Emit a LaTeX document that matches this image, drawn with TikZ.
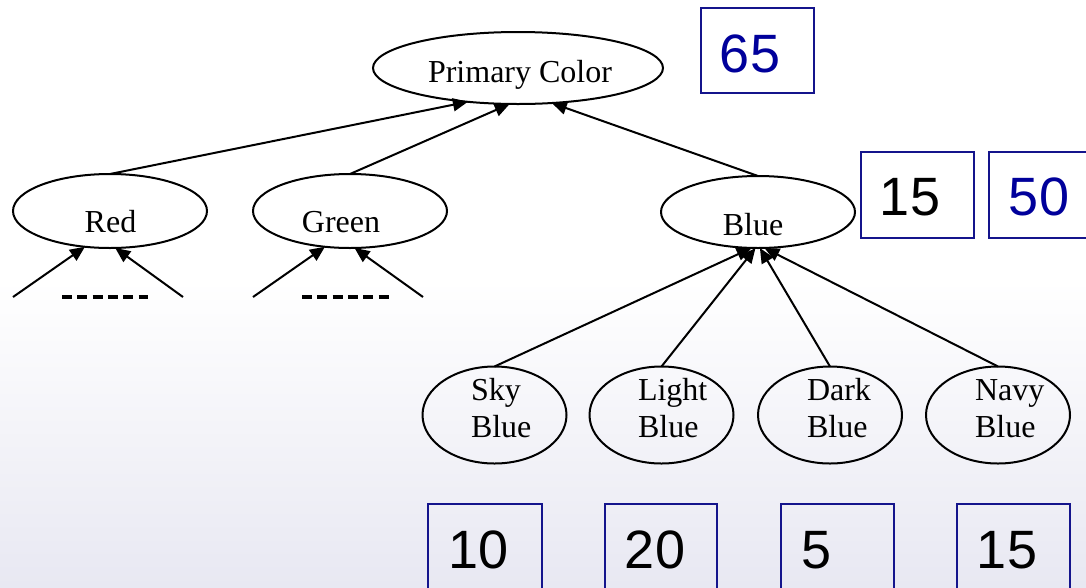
\documentclass[tikz,border=0pt]{standalone}
\usepackage{fontspec}
\setmainfont{Liberation Serif}
\newfontfamily\numfont{Liberation Sans}
\usetikzlibrary{arrows.meta,shapes.geometric}
\definecolor{boxblue}{RGB}{20,20,140}
\definecolor{numblue}{RGB}{0,0,155}
\definecolor{bgbottom}{RGB}{232,232,242}
\begin{document}
\begin{tikzpicture}[x=1pt,y=-1pt,
  oval/.style={ellipse,draw=black,line width=2pt,inner sep=0pt,outer sep=0pt},
  lbl/.style={inner sep=0pt,outer sep=0pt,font=\fontsize{32}{37}\selectfont},
  valbox/.style={draw=boxblue,line width=2pt,inner sep=0pt,outer sep=0pt,minimum width=113pt},
  numtxt/.style={inner sep=0pt,outer sep=0pt,font=\numfont\fontsize{54}{60}\selectfont},
  arr/.style={line width=2pt,-{Triangle[length=15pt,width=13pt]}},
  dashline/.style={line width=3.5pt,dash pattern=on 10pt off 5.3pt}]
\useasboundingbox (0,0) rectangle (1086,587);
\clip (0,0) rectangle (1086,587);
\fill[white] (0,0) rectangle (1086,281);
\shade[top color=white,bottom color=bgbottom] (0,280) rectangle (1086,587);

% ellipses
\node[oval,minimum width=290pt,minimum height=72pt] (prim) at (518,68) {};
\node[oval,minimum width=194pt,minimum height=74pt] (red) at (110,211) {};
\node[oval,minimum width=194pt,minimum height=74pt] (green) at (350,211) {};
\node[oval,minimum width=194pt,minimum height=72pt] (blue) at (758,212) {};
\node[oval,minimum width=144pt,minimum height=97pt] (sky) at (494.5,415) {};
\node[oval,minimum width=144pt,minimum height=97pt] (light) at (661.5,415) {};
\node[oval,minimum width=144pt,minimum height=97pt] (dark) at (830,415) {};
\node[oval,minimum width=144pt,minimum height=97pt] (navy) at (998,415) {};

% labels
\node[lbl,anchor=base] (primT) at (520,82) {Primary Color};
\node[lbl,anchor=base] (redT) at (110.5,232) {Red};
\node[lbl,anchor=base] (greenT) at (341,232) {Green};
\node[lbl,anchor=base] (blueT) at (753,235) {Blue};
\node[lbl,anchor=base west] (skyA) at (471,400) {Sky};
\node[lbl,anchor=base west] (skyB) at (471,437) {Blue};
\node[lbl,anchor=base west] (lightA) at (638,400) {Light};
\node[lbl,anchor=base west] (lightB) at (638,437) {Blue};
\node[lbl,anchor=base west] (darkA) at (807,400) {Dark};
\node[lbl,anchor=base west] (darkB) at (807,437) {Blue};
\node[lbl,anchor=base west] (navyA) at (975,400) {Navy};
\node[lbl,anchor=base west] (navyB) at (975,437) {Blue};

% edges to Primary Color
\draw[arr] (red.north) -- (prim.214);
\draw[arr] (green.north) -- (prim.257);
\draw[arr] (blue.north) -- (prim.314);

% edges to Blue
\draw[arr] (sky.north) -- (blue.260);
\draw[arr] (light.north) -- (blue.266);
\draw[arr] (dark.north) -- (blue.273);
\draw[arr] (navy.north) -- (blue.280);

% open edges under Red and Green
\coordinate (rl) at (13,297);
\coordinate (rr) at (183,297);
\coordinate (gl) at (253,297);
\coordinate (gr) at (423,297);
\draw[arr] (rl) -- (red.235);
\draw[arr] (rr) -- (red.278);
\draw[arr] (gl) -- (green.235);
\draw[arr] (gr) -- (green.277);
\coordinate (rd1) at (62,297);
\coordinate (rd2) at (148,297);
\coordinate (gd1) at (302,297);
\coordinate (gd2) at (389,297);
\draw[dashline] (rd1) -- (rd2);
\draw[dashline] (gd1) -- (gd2);

% value boxes
\node[valbox,minimum height=85pt] (b65) at (757.5,50.5) {};
\node[numtxt,anchor=base,text=numblue] (t65) at (750,72) {65};
\node[valbox,minimum height=86pt] (b15) at (917.5,195) {};
\node[numtxt,anchor=base] (t15) at (910,215) {15};
\node[valbox,minimum height=86pt] (b50) at (1045.5,195) {};
\node[numtxt,anchor=base,text=numblue] (t50) at (1039,215) {50};
\node[valbox,minimum width=114pt,minimum height=110pt] (b10) at (485,559) {};
\node[numtxt,anchor=base] (t10) at (479,568) {10};
\node[valbox,minimum width=112pt,minimum height=110pt] (b20) at (661,559) {};
\node[numtxt,anchor=base] (t20) at (655,568) {20};
\node[valbox,minimum height=110pt] (b5) at (837.5,559) {};
\node[numtxt,anchor=base] (t5) at (816.5,568) {5};
\node[valbox,minimum height=110pt] (b15b) at (1013.5,559) {};
\node[numtxt,anchor=base] (t15b) at (1007,568) {15};
\end{tikzpicture}
\end{document}
